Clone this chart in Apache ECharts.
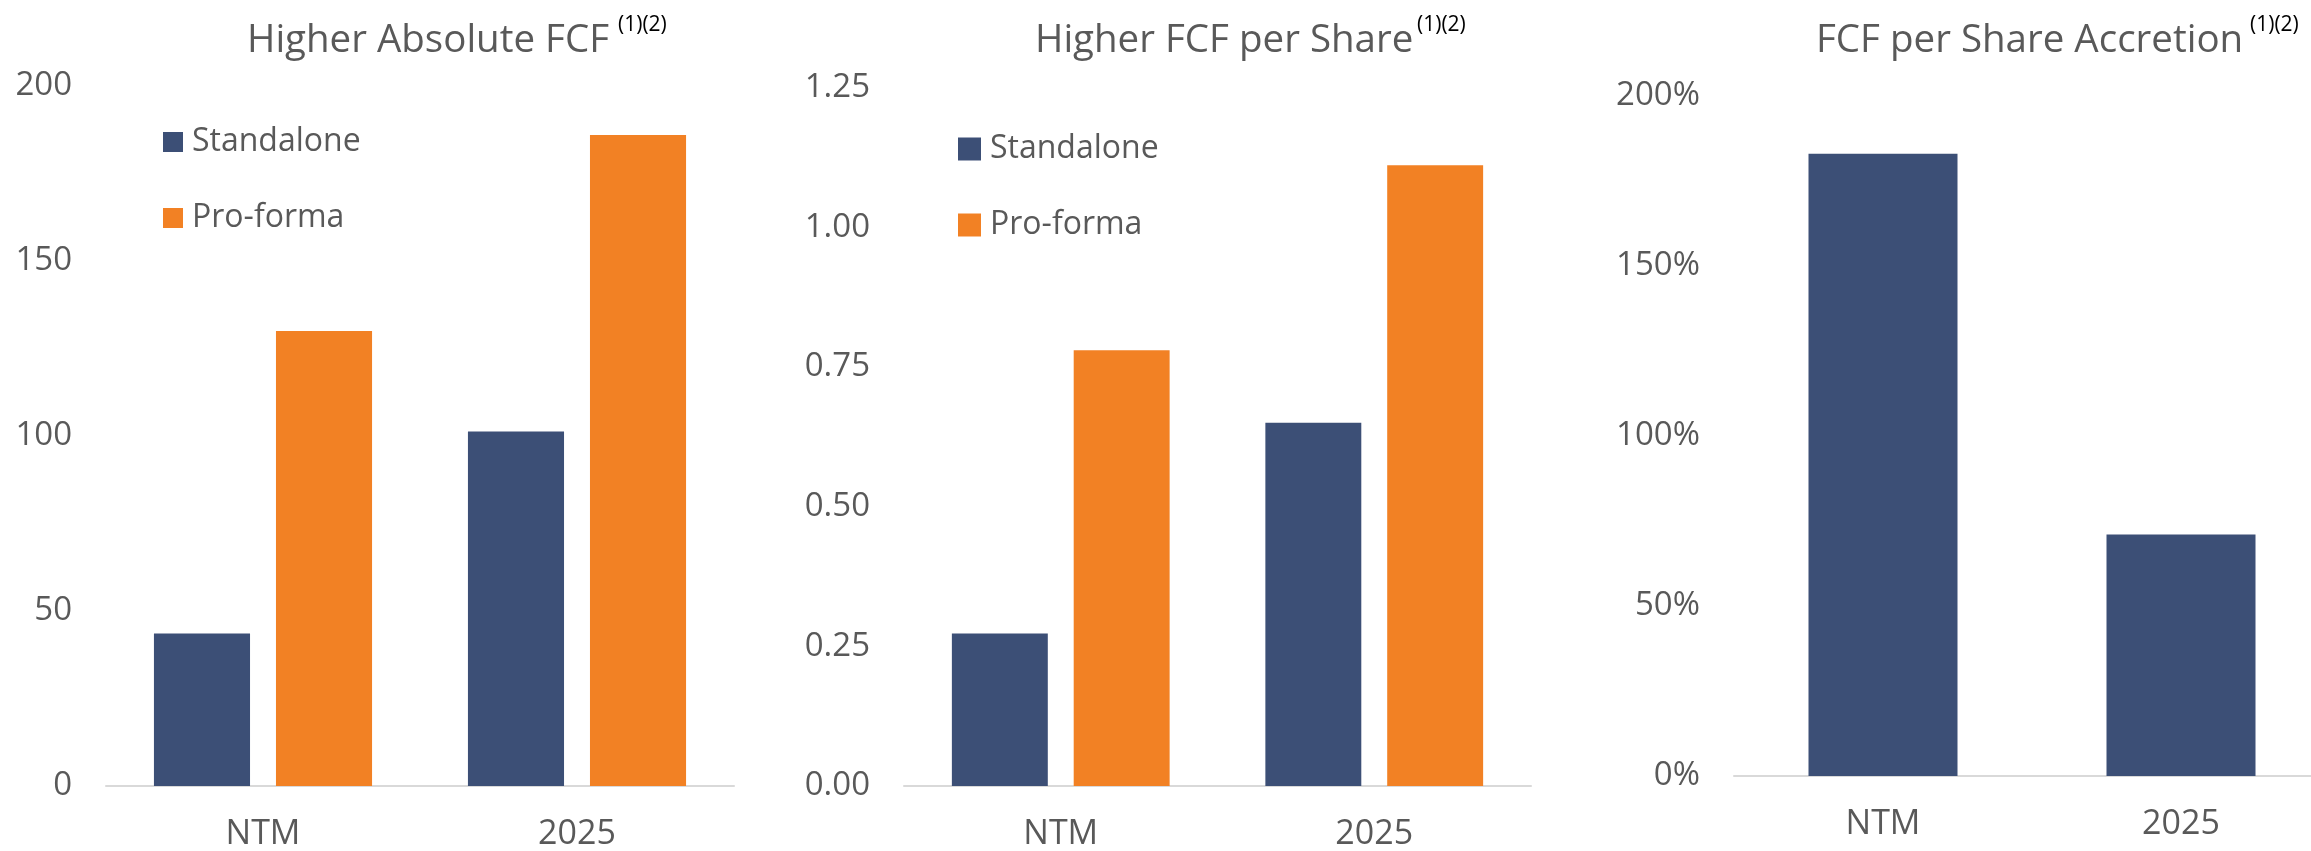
<!DOCTYPE html>
<html>
<head>
<meta charset="utf-8">
<script src="https://cdn.jsdelivr.net/npm/echarts@6/dist/echarts.min.js"></script>
<style>
html,body{margin:0;padding:0;background:#fff;}
#c{width:2311px;height:851px;}
</style>
</head>
<body>
<div id="c"></div>
<script>
// ---- data ----
var categories = ['NTM', '2025'];
var seriesNames = ['Standalone', 'Pro-forma'];
var absStandalone = [43.6, 101.3];
var absProforma = [130, 186];
var perShareStandalone = [0.273, 0.65];
var perShareProforma = [0.78, 1.111];
var accretionPct = [183, 71];
var titles = ['Higher Absolute FCF', 'Higher FCF per Share', 'FCF per Share Accretion'];
var footnote = '(1)(2)';

// ---- styles ----
var FONT = 'Open Sans';
var GRAY = '#595959';
var NAVY = '#3C4F76';
var ORANGE = '#F28124';
var AXIS = '#D9D9D9';

var chart = echarts.init(document.getElementById('c'));

function xAxisCfg(gi) {
  return {
    type: 'category', gridIndex: gi, data: categories,
    axisLine: {show: true, lineStyle: {color: AXIS, width: 2}},
    axisTick: {show: false},
    axisLabel: {color: GRAY, fontFamily: FONT, fontSize: 34, lineHeight: 34, margin: 31}
  };
}
function yAxisCfg(gi, max, interval, fmt) {
  return {
    type: 'value', gridIndex: gi, min: 0, max: max, interval: interval,
    axisLine: {show: false}, axisTick: {show: false}, splitLine: {show: false},
    axisLabel: {color: GRAY, fontFamily: FONT, fontSize: 33, margin: 34, formatter: fmt}
  };
}
function titleCfg(text, left) {
  return {text: text, left: left, top: 22, padding: 0,
    textStyle: {color: GRAY, fontFamily: FONT, fontSize: 38.5, fontWeight: 'normal', lineHeight: 38}};
}
function supCfg(left) {
  return {text: footnote, left: left, top: 15, padding: 0,
    textStyle: {color: '#000', fontFamily: FONT, fontSize: 21, fontWeight: 'normal', lineHeight: 21}};
}
function legendCfg(left, top, size) {
  return {
    data: seriesNames, orient: 'vertical', left: left, top: top, padding: 0,
    itemWidth: size, itemHeight: size, itemGap: 36, icon: 'rect', selectedMode: false,
    textStyle: {color: GRAY, fontFamily: FONT, fontSize: 32, lineHeight: 40, padding: [0, 0, 0, 4]}
  };
}

var option = {
  animation: false,
  backgroundColor: '#fff',
  title: [
    titleCfg(titles[0], 247), supCfg(618),
    titleCfg(titles[1], 1035), supCfg(1417),
    titleCfg(titles[2], 1816), supCfg(2250)
  ],
  legend: [legendCfg(163, 122, 20), legendCfg(958, 129, 23)],
  grid: [
    {left: 106, top: 86, width: 628, height: 700, outerBoundsMode: 'none', containLabel: false},
    {left: 904, top: 87.5, width: 627, height: 698.5, outerBoundsMode: 'none', containLabel: false},
    {left: 1734, top: 96, width: 596, height: 680, outerBoundsMode: 'none', containLabel: false}
  ],
  xAxis: [xAxisCfg(0), xAxisCfg(1), xAxisCfg(2)],
  yAxis: [
    yAxisCfg(0, 200, 50, function (v) { return String(v); }),
    yAxisCfg(1, 1.25, 0.25, function (v) { return v.toFixed(2); }),
    yAxisCfg(2, 200, 50, function (v) { return v + '%'; })
  ],
  series: [
    {name: seriesNames[0], type: 'bar', xAxisIndex: 0, yAxisIndex: 0, data: absStandalone,
      barWidth: '30.6%', barGap: '27%', itemStyle: {color: NAVY}},
    {name: seriesNames[1], type: 'bar', xAxisIndex: 0, yAxisIndex: 0, data: absProforma,
      barWidth: '30.6%', barGap: '27%', itemStyle: {color: ORANGE}},
    {name: seriesNames[0], type: 'bar', xAxisIndex: 1, yAxisIndex: 1, data: perShareStandalone,
      barWidth: '30.6%', barGap: '27%', itemStyle: {color: NAVY}},
    {name: seriesNames[1], type: 'bar', xAxisIndex: 1, yAxisIndex: 1, data: perShareProforma,
      barWidth: '30.6%', barGap: '27%', itemStyle: {color: ORANGE}},
    {name: 'Accretion', type: 'bar', xAxisIndex: 2, yAxisIndex: 2, data: accretionPct,
      barWidth: '50%', itemStyle: {color: NAVY}}
  ]
};
chart.setOption(option);
</script>
</body>
</html>
